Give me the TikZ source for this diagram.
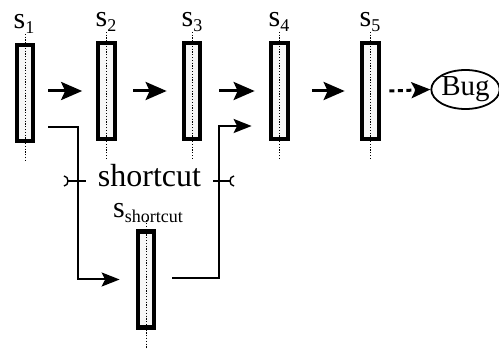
\documentclass[tikz,border=0pt]{standalone}
\usepackage{fontspec}
\setmainfont{Liberation Serif}
\usetikzlibrary{arrows.meta,shapes.geometric,calc}
\newcommand{\lbl}[1]{\fontsize{30}{30}\selectfont s\raisebox{-5pt}{\fontsize{18}{18}\selectfont #1}}
\begin{document}
\begin{tikzpicture}[x=1pt,y=-1pt,
  statebox/.style={draw, line width=4.2pt, fill=gray!6, minimum width=16.5pt, minimum height=96pt, inner sep=0pt},
  dotline/.style={line width=0.9pt, dash pattern=on 1.2pt off 1.6pt},
  bigarr/.style={line width=3pt, -{Stealth[length=21pt,width=18pt,inset=4pt]}},
  dasharr/.style={line width=3pt, dash pattern=on 5pt off 3.5pt, -{Stealth[length=19pt,width=16pt,inset=4pt]}},
  thinarr/.style={line width=2pt, -{Stealth[length=18pt,width=14pt,inset=3.5pt]}},
  thinline/.style={line width=2pt},
  lab/.style={anchor=base, inner sep=0pt},
]
\useasboundingbox (0,0) rectangle (499,350);
% state boxes
\node[statebox] (s1) at (25,93) {};
\node[statebox] (s2) at (106.5,91) {};
\node[statebox] (s3) at (192,91) {};
\node[statebox] (s4) at (279.5,91) {};
\node[statebox] (s5) at (370.5,91) {};
\node[statebox] (ss) at (146,279.5) {};
\node[draw, ellipse, line width=1.8pt, minimum width=63pt, minimum height=39pt, inner sep=0pt,
      font=\fontsize{29}{29}\selectfont] (bug) at (465.5,89.5) {Bug};
% dotted centre lines
\foreach \n in {s1,s2,s3,s4,s5,ss}{
  \draw[dotline] ([yshift=9pt]\n.north) -- ([yshift=-19pt]\n.south);
}
% labels
\node[lab] (l1) at (24,29) {\lbl{1}};
\node[lab] (l2) at (106,27) {\lbl{2}};
\node[lab] (l3) at (192,27) {\lbl{3}};
\node[lab] (l4) at (279,27) {\lbl{4}};
\node[lab] (l5) at (370,27) {\lbl{5}};
\node[lab] (lss) at (148,218) {\lbl{shortcut}};
% main arrows
\draw[bigarr] ($(s1.east |- s2.west)+(13,0)$) -- ($(s2.west)+(-14,0)$);
\draw[bigarr] ($(s2.east)+(16.5,0)$) -- ($(s3.west)+(-15,0)$);
\draw[bigarr] ($(s3.east)+(17,0)$) -- ($(s4.west)+(-14.5,0)$);
\draw[bigarr] ($(s4.east)+(22,0)$) -- ($(s5.west)+(-15.5,0)$);
\draw[dasharr] ($(s5.east)+(8.5,0)$) -- (bug.west);
% shortcut paths
\draw[thinarr] ($(s1.east)+(13,34)$) -| ($(ss.west)+(-58,0)$) -- ($(ss.west)+(-16,0)$);
\draw[thinarr] ($(ss.east)+(16,-1)$) -| ($(s4.west)+(-50.5,35)$) -- ($(s4.west)+(-17.5,35)$);
% shortcut bracket label
\node[lab, font=\fontsize{32}{32}\selectfont] (sc) at (149.5,187) {shortcut};
\coordinate (bl) at (68,181);
\coordinate (br) at (230,181);
\draw[thinline] ($(sc.west |- bl)+(-12,0)$) -- (bl);
\draw[thinline] ($(sc.east |- br)+(12,0)$) -- (br);
\draw[line width=1.4pt] ($(bl)+(-4,-5)$) to[out=0,in=90] (bl) to[out=-90,in=0] ($(bl)+(-4,5)$);
\draw[line width=1.4pt] ($(br)+(4,-5)$) to[out=180,in=90] (br) to[out=-90,in=180] ($(br)+(4,5)$);
\end{tikzpicture}
\end{document}
